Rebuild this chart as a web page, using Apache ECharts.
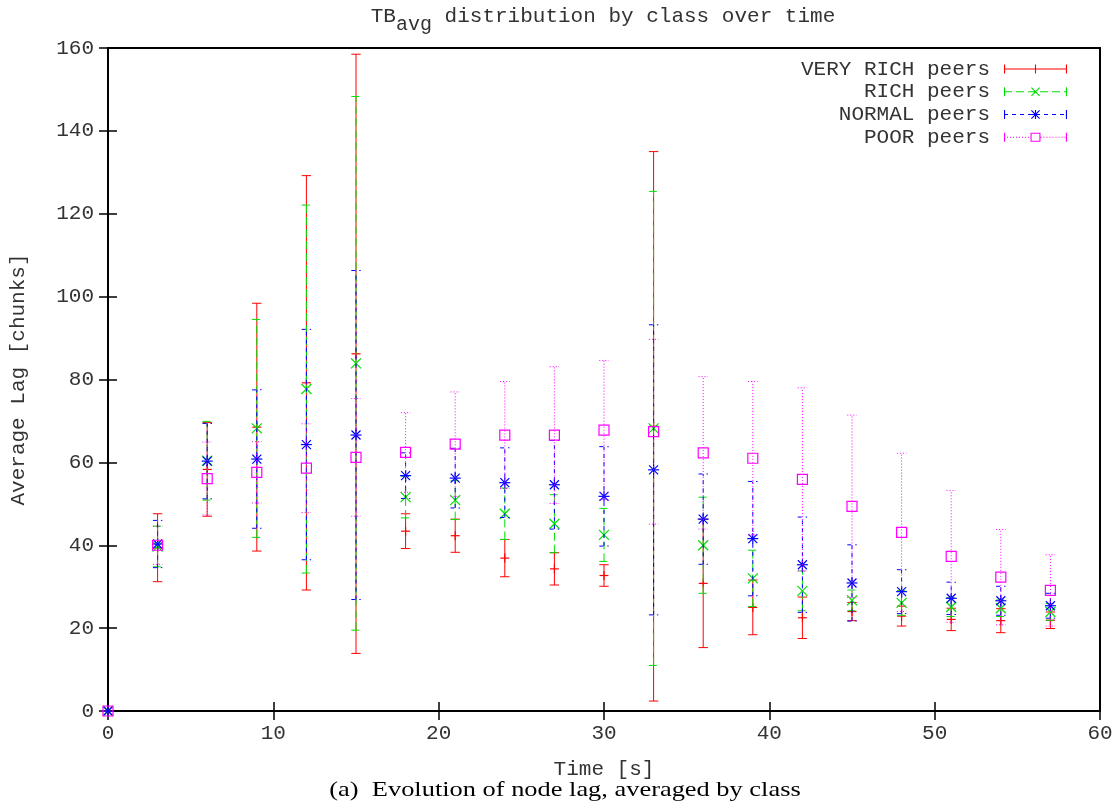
<!DOCTYPE html>
<html>
<head>
<meta charset="utf-8">
<script src="https://cdn.jsdelivr.net/npm/echarts@6/dist/echarts.min.js"></script>
<style>
  html, body { margin: 0; padding: 0; background: #fff; }
  #chart { width: 1118px; height: 808px; }
</style>
</head>
<body>
<div id="chart"></div>
<script>
// time steps [s]
var times = [0, 3, 6, 9, 12, 15, 18, 21, 24, 27, 30, 33, 36, 39, 42, 45, 48, 51, 54, 57];

// average lag and its spread (error bar half-length) per class
var veryRichLag = [0, 39.4, 58.3, 68.5, 79.2, 86.2, 43.4, 42.3, 36.9, 34.3, 32.7, 68.7, 30.8, 25.0, 22.5, 24.0, 22.9, 22.1, 21.8, 21.9];
var veryRichDev = [0, 8.2, 11.3, 29.9, 50.0, 72.3, 4.2, 4.0, 4.5, 3.9, 2.6, 66.3, 15.5, 6.6, 5.0, 2.2, 2.4, 2.7, 2.9, 2.0];

var richLag = [0, 39.7, 60.4, 68.2, 77.7, 83.9, 51.6, 50.9, 47.6, 45.2, 42.5, 68.2, 40.0, 32.0, 29.0, 26.7, 26.1, 25.1, 24.8, 23.9];
var richDev = [0, 4.9, 9.5, 26.3, 44.4, 64.4, 5.0, 4.7, 6.2, 7.0, 6.4, 57.2, 11.6, 6.8, 4.8, 2.5, 3.0, 2.3, 2.0, 2.0];

var normalLag = [0, 40.3, 60.3, 60.8, 64.3, 66.6, 56.8, 56.2, 55.1, 54.6, 51.8, 58.2, 46.3, 41.6, 35.3, 30.9, 28.8, 27.2, 26.6, 25.4];
var normalDev = [0, 5.7, 9.1, 16.7, 27.8, 39.7, 5.5, 7.2, 8.4, 10.7, 12.0, 35.0, 10.9, 13.8, 11.5, 9.2, 5.3, 3.9, 3.5, 3.0];

var poorLag = [0, 40.0, 56.1, 57.6, 58.6, 61.2, 62.4, 64.4, 66.6, 66.6, 67.8, 67.4, 62.3, 61.0, 55.9, 49.4, 43.1, 37.3, 32.3, 29.1];
var poorDev = [0, 4.6, 8.8, 7.4, 10.7, 14.2, 9.6, 12.6, 12.9, 16.5, 16.8, 22.3, 18.4, 18.5, 22.1, 22.0, 19.1, 15.9, 11.5, 8.6];

var seriesNames = ['VERY RICH peers', 'RICH peers', 'NORMAL peers', 'POOR peers'];
var xTicks = [0, 60, 10];
var yTicks = [0, 160, 20];

var MONO = 'Liberation Mono, DejaVu Sans Mono, monospace';
var TXT = '#333';

// point shapes, gnuplot like
function markerShapes(kind, cx, cy, color) {
    var st = { stroke: color, lineWidth: 1.2, fill: null };
    var out = [];
    function ln(x1, y1, x2, y2) {
        out.push({ type: 'line', shape: { x1: x1, y1: y1, x2: x2, y2: y2 }, style: st });
    }
    if (kind === 'plus') {
        ln(cx - 4.5, cy, cx + 4.5, cy); ln(cx, cy - 4.5, cx, cy + 4.5);
    } else if (kind === 'cross') {
        ln(cx - 5, cy - 5, cx + 5, cy + 5); ln(cx - 5, cy + 5, cx + 5, cy - 5);
    } else if (kind === 'star') {
        ln(cx - 5.5, cy, cx + 5.5, cy); ln(cx, cy - 5.5, cx, cy + 5.5);
        ln(cx - 4.5, cy - 4.5, cx + 4.5, cy + 4.5); ln(cx - 4.5, cy + 4.5, cx + 4.5, cy - 4.5);
    } else {
        out.push({ type: 'rect', shape: { x: cx - 5, y: cy - 5, width: 10, height: 10 }, style: st });
    }
    return out;
}

function errorBars(color, dash, kind) {
    return function (params, api) {
        var x = api.value(0), m = api.value(1), d = api.value(2);
        var pm = api.coord([x, m]);
        var children = [];
        if (d > 0) {
            var pl = api.coord([x, m - d]);
            var ph = api.coord([x, m + d]);
            var st = { stroke: color, lineWidth: 1, lineDash: dash, fill: null };
            children.push({ type: 'line', shape: { x1: pl[0], y1: pl[1], x2: ph[0], y2: ph[1] }, style: st });
            children.push({ type: 'line', shape: { x1: pl[0] - 4.7, y1: pl[1], x2: pl[0] + 4.7, y2: pl[1] }, style: st });
            children.push({ type: 'line', shape: { x1: ph[0] - 4.7, y1: ph[1], x2: ph[0] + 4.7, y2: ph[1] }, style: st });
        }
        children = children.concat(markerShapes(kind, pm[0], pm[1], color));
        return { type: 'group', children: children };
    };
}

// legend sample: line with end caps and the point in the middle, as a filled path
function legendIcon(kind, dash) {
    var W = 63, H = 9, my = 4.5, t = 1.1, cx = W / 2;
    var p = '';
    function rect(x, y, w, h) {
        p += 'M' + x + ' ' + y + 'L' + (x + w) + ' ' + y + 'L' + (x + w) + ' ' + (y + h) + 'L' + x + ' ' + (y + h) + 'Z';
    }
    function seg(x0, x1) {
        if (!dash) { rect(x0, my - t / 2, x1 - x0, t); return; }
        for (var x = x0; x < x1; x += dash[0] + dash[1]) {
            rect(x, my - t / 2, Math.min(dash[0], x1 - x), t);
        }
    }
    if (kind === 'square') { seg(0, cx - 5); seg(cx + 5, W); } else { seg(0, W); }
    rect(0, 0, t, H); rect(W - t, 0, t, H);
    var r = 4.5, a = 0.8;
    if (kind === 'plus' || kind === 'star') { rect(cx - r, my - t / 2, 2 * r, t); rect(cx - t / 2, 0, t, H); }
    if (kind === 'cross' || kind === 'star') {
        p += 'M' + (cx - r + a) + ' 0L' + (cx + r) + ' ' + (H - a) + 'L' + (cx + r - a) + ' ' + H + 'L' + (cx - r) + ' ' + a + 'Z';
        p += 'M' + (cx - r) + ' ' + (H - a) + 'L' + (cx + r - a) + ' 0L' + (cx + r) + ' ' + a + 'L' + (cx - r + a) + ' ' + H + 'Z';
    }
    if (kind === 'square') {
        p += 'M' + (cx - 5) + ' 0L' + (cx + 5) + ' 0L' + (cx + 5) + ' ' + H + 'L' + (cx - 5) + ' ' + H + 'Z';
        p += 'M' + (cx - 5 + t) + ' ' + t + 'L' + (cx - 5 + t) + ' ' + (H - t) + 'L' + (cx + 5 - t) + ' ' + (H - t) + 'L' + (cx + 5 - t) + ' ' + t + 'Z';
    }
    return 'path://' + p;
}

var styles = [
    { color: '#ff0000', dash: null, kind: 'plus' },
    { color: '#00e000', dash: [8, 4], kind: 'cross' },
    { color: '#0000ff', dash: [4, 4], kind: 'star' },
    { color: '#ff00ff', dash: [1, 2], kind: 'square' }
];
var lags = [veryRichLag, richLag, normalLag, poorLag];
var devs = [veryRichDev, richDev, normalDev, poorDev];

var series = seriesNames.map(function (name, k) {
    return {
        name: name,
        type: 'custom',
        silent: true,
        xAxisIndex: 0,
        yAxisIndex: 0,
        itemStyle: { color: styles[k].color },
        renderItem: errorBars(styles[k].color, styles[k].dash, styles[k].kind),
        encode: { x: 0, y: 1 },
        data: times.map(function (t, i) { return [t, lags[k][i], devs[k][i]]; })
    };
});

function axisBase(range, extra) {
    var o = {
        type: 'value', min: range[0], max: range[1], interval: range[2],
        axisLine: { show: false },
        splitLine: { show: false },
        axisTick: { inside: true, length: 9, lineStyle: { color: '#000', width: 1.5 } }
    };
    for (var k in extra) o[k] = extra[k];
    return o;
}

var chart = echarts.init(document.getElementById('chart'));
var option = {
    animation: false,
    title: {
        text: '{a|TB}{b|avg}{a| distribution by class over time}',
        left: 603,
        top: -3,
        padding: 0,
        textAlign: 'center',
        textStyle: {
            fontWeight: 'normal',
            rich: {
                a: { fontFamily: MONO, fontSize: 21, fontWeight: 'normal', color: TXT },
                b: { fontFamily: MONO, fontSize: 20, fontWeight: 'normal', color: TXT, padding: [18, 0, 0, 0] }
            }
        }
    },
    legend: {
        right: 51,
        top: 58,
        padding: 0,
        orient: 'vertical',
        align: 'right',
        itemWidth: 63,
        itemHeight: 9,
        itemGap: 0.75,
        selectedMode: false,
        itemStyle: { borderWidth: 0 },
        textStyle: { fontFamily: MONO, fontSize: 21, color: TXT, lineHeight: 22, padding: [0, 9, 0, 0] },
        data: seriesNames.map(function (n, k) {
            return { name: n, icon: legendIcon(styles[k].kind, styles[k].dash) };
        })
    },
    grid: {
        left: 107, right: 18, top: 48, bottom: 97,
        show: true, borderColor: '#000', borderWidth: 2, backgroundColor: 'transparent'
    },
    xAxis: [
        axisBase(xTicks, {
            position: 'bottom',
            axisLabel: { margin: 12, fontFamily: MONO, fontSize: 21, color: TXT },
            name: 'Time [s]', nameLocation: 'middle', nameGap: 48,
            nameTextStyle: { fontFamily: MONO, fontSize: 21, color: TXT }
        }),
        axisBase(xTicks, { position: 'top', axisLabel: { show: false } })
    ],
    yAxis: [
        axisBase(yTicks, {
            position: 'left',
            axisLabel: { margin: 14, fontFamily: MONO, fontSize: 21, color: TXT },
            name: 'Average Lag [chunks]', nameLocation: 'middle', nameGap: 79,
            nameTextStyle: { fontFamily: MONO, fontSize: 21, color: TXT }
        }),
        axisBase(yTicks, { position: 'right', axisLabel: { show: false } })
    ],
    graphic: [{
        type: 'text',
        x: 565, y: 790,
        scaleX: 1.2,
        style: {
            text: '(a)  Evolution of node lag, averaged by class',
            font: '22px "Liberation Serif", "Times New Roman", serif',
            fill: '#000',
            textAlign: 'center',
            textVerticalAlign: 'middle'
        }
    }],
    series: series
};
chart.setOption(option);
</script>
</body>
</html>
